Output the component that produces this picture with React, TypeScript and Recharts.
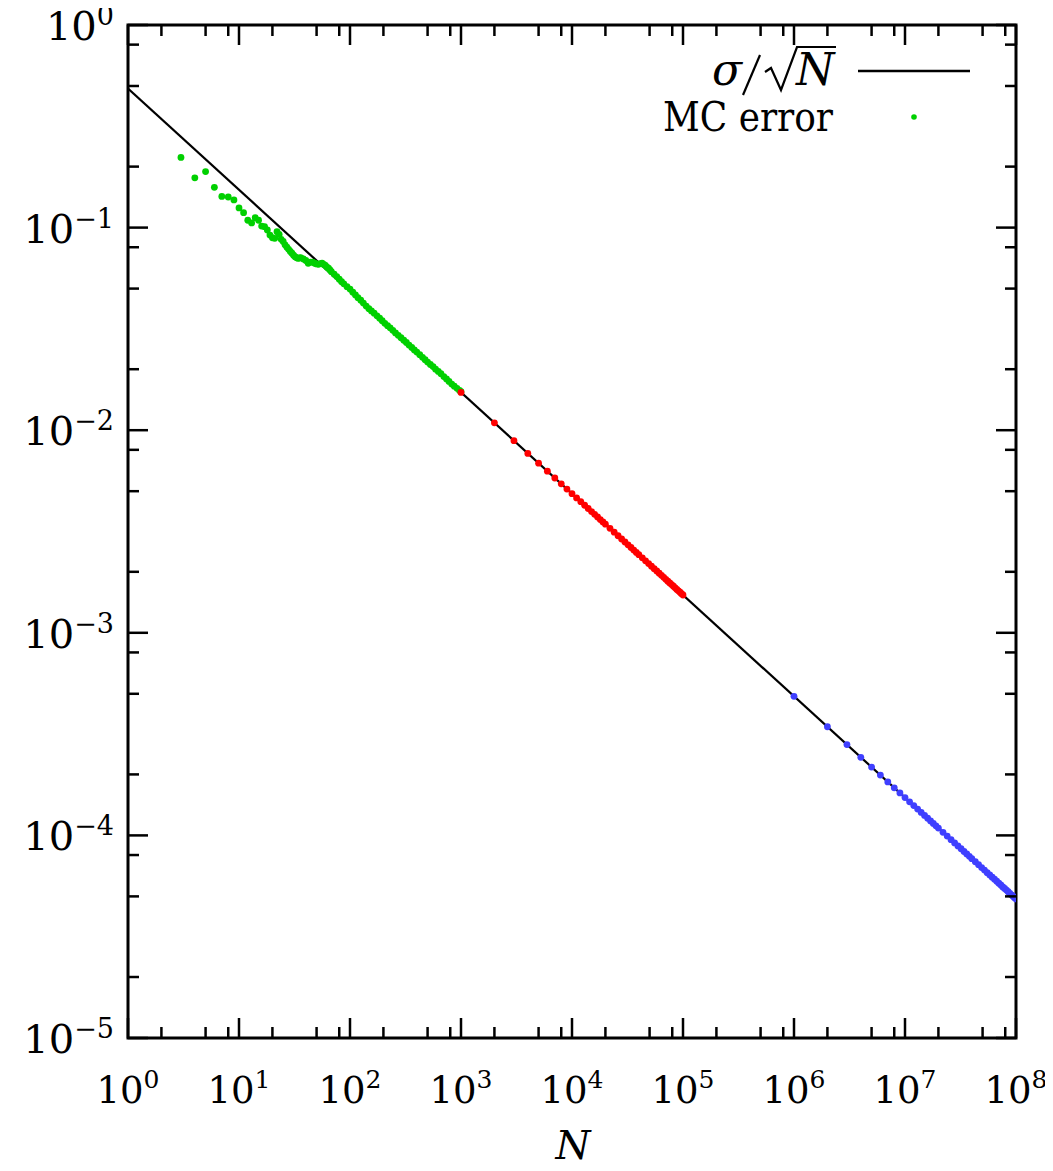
import { ScatterChart, Scatter, XAxis, YAxis, ReferenceArea } from 'recharts'

// sigma / sqrt(N) reference line, end points
const lineN = [1, 1e8]
const lineErr = [0.486, 0.0000486]

// MC error, first run (green)
const greenN = [3, 4, 5, 6, 7, 8, 9, 10, 11, 12, 13, 14, 15, 16, 17, 18, 19, 20, 21, 22, 23, 24, 25, 26, 27, 28, 29, 30, 31, 32, 33, 34, 35, 36, 38, 40, 42, 44, 46, 48, 50, 52, 54, 56, 58, 60, 62, 64, 66, 68, 72, 76, 80, 84, 88, 94, 100, 106, 112, 118, 125, 132, 140, 148, 156, 165, 175, 185, 195, 206, 218, 230, 243, 257, 272, 288, 305, 322, 340, 360, 380, 400, 425, 450, 475, 500, 530, 560, 590, 625, 660, 700, 740, 780, 825, 870, 920, 970, 1000]
const greenErr = [0.222, 0.176, 0.189, 0.158, 0.1426, 0.1416, 0.137, 0.125, 0.1185, 0.1087, 0.1054, 0.112, 0.1087, 0.1018, 0.101, 0.0973, 0.0919, 0.0891, 0.0885, 0.0955, 0.0925, 0.0875, 0.0855, 0.0822, 0.08, 0.0781, 0.0762, 0.0747, 0.0731, 0.0719, 0.071, 0.0705, 0.0708, 0.0711, 0.07, 0.0688, 0.0667, 0.0676, 0.0675, 0.0667, 0.0662, 0.0659, 0.0664, 0.0667, 0.0658, 0.065, 0.0638, 0.063, 0.0618, 0.0606, 0.0589, 0.0573, 0.0556, 0.0541, 0.0528, 0.0511, 0.0497, 0.048, 0.0465, 0.0451, 0.0438, 0.0424, 0.041, 0.0398, 0.0388, 0.0378, 0.0367, 0.0357, 0.0347, 0.0337, 0.0328, 0.032, 0.0311, 0.0302, 0.0294, 0.0286, 0.0278, 0.0271, 0.0263, 0.0256, 0.0249, 0.0243, 0.0236, 0.0229, 0.0223, 0.0217, 0.0211, 0.0206, 0.02, 0.0195, 0.019, 0.0184, 0.0179, 0.0174, 0.0169, 0.0165, 0.0161, 0.0157, 0.0155]

// second run (red)
const redN = [1000, 2000, 3000, 4000, 5000, 6000, 7000, 8000, 9000, 10000, 11000, 12000, 13000, 14000, 15000, 16000, 17000, 18000, 19000, 20000, 22000, 24000, 26000, 28000, 30000, 32000, 34000, 36000, 38000, 40000, 43000, 46000, 49000, 52000, 55000, 58000, 61000, 64000, 67000, 70000, 73000, 76000, 79000, 82000, 85000, 88000, 91000, 94000, 97000, 100000]
const redErr = [0.01537, 0.01087, 0.008873, 0.007684, 0.006873, 0.006274, 0.005809, 0.005434, 0.005123, 0.00486, 0.004634, 0.004437, 0.004262, 0.004107, 0.003968, 0.003842, 0.003728, 0.003622, 0.003526, 0.003437, 0.003277, 0.003137, 0.003014, 0.002904, 0.002806, 0.002717, 0.002636, 0.002561, 0.002493, 0.00243, 0.002344, 0.002266, 0.002196, 0.002131, 0.002072, 0.002018, 0.001968, 0.001921, 0.001878, 0.001837, 0.001799, 0.001763, 0.001729, 0.001697, 0.001667, 0.001638, 0.001611, 0.001585, 0.00156, 0.001537]

// third run (blue)
const blueN = [1e6, 2e6, 3e6, 4e6, 5e6, 6e6, 7e6, 8e6, 9e6, 1e7, 1.1e7, 1.2e7, 1.3e7, 1.4e7, 1.5e7, 1.6e7, 1.7e7, 1.8e7, 1.9e7, 2e7, 2.2e7, 2.4e7, 2.6e7, 2.8e7, 3e7, 3.2e7, 3.4e7, 3.6e7, 3.8e7, 4e7, 4.3e7, 4.6e7, 4.9e7, 5.2e7, 5.5e7, 5.8e7, 6.1e7, 6.4e7, 6.7e7, 7e7, 7.3e7, 7.6e7, 7.9e7, 8.2e7, 8.5e7, 8.8e7, 9.1e7, 9.4e7, 9.7e7, 1e8]
const blueErr = [0.000486, 0.0003437, 0.0002806, 0.000243, 0.0002173, 0.0001984, 0.0001837, 0.0001718, 0.000162, 0.0001537, 0.0001465, 0.0001403, 0.0001348, 0.0001299, 0.0001255, 0.0001215, 0.0001179, 0.0001146, 0.0001115, 0.0001087, 0.0001036, 0.0000992, 0.0000953, 0.0000918, 0.0000887, 0.0000859, 0.0000833, 0.000081, 0.0000788, 0.0000768, 0.0000741, 0.0000717, 0.0000694, 0.0000674, 0.0000655, 0.0000638, 0.0000622, 0.0000608, 0.0000594, 0.0000581, 0.0000569, 0.0000557, 0.0000547, 0.0000537, 0.0000527, 0.0000518, 0.0000509, 0.0000501, 0.0000493, 0.0000486]

const xDecades = [0, 1, 2, 3, 4, 5, 6, 7, 8]
const yDecades = [-5, -4, -3, -2, -1, 0]
const minorSteps = [2, 5, 8]

const zip = (ns: number[], es: number[]) => ns.map((n, i) => ({ n, err: es[i] }))

const logTicks = (decs: number[]) => [
  ...decs.map((d) => 10 ** d),
  ...decs.slice(0, -1).flatMap((d) => minorSteps.map((m) => m * 10 ** d)),
].sort((a, b) => a - b)

const W = 1053
const H = 1171
const PLOT = { left: 128, top: 25, right: 1016, bottom: 1038 }
const FONT = '"DejaVu Serif", "Liberation Serif", serif'
const txt = { fontFamily: FONT }
const GREEN = '#00d000'
const RED = '#ff0000'
const BLUE = '#3f3fff'

const exponentOf = (v: number) => {
  const e = Math.log10(v)
  return Math.abs(e - Math.round(e)) < 1e-6 ? Math.round(e) : null
}

const fmtExp = (e: number) => (e < 0 ? `\u2212${-e}` : `${e}`)

function XTick(props: any) {
  const { x, payload } = props
  const e = exponentOf(payload.value)
  const len = e === null ? 11 : 20
  return (
    <g>
      <line x1={x} x2={x} y1={PLOT.bottom} y2={PLOT.bottom - len} stroke="#000" strokeWidth={2.5} />
      <line x1={x} x2={x} y1={PLOT.top} y2={PLOT.top + len} stroke="#000" strokeWidth={2.5} />
      {e !== null && (
        <text x={x} y={1103} textAnchor="middle" style={txt} fontSize={37} fill="#000">
          10<tspan dy={-15} fontSize={25}>{fmtExp(e)}</tspan>
        </text>
      )}
    </g>
  )
}

function YTick(props: any) {
  const { y, payload } = props
  const e = exponentOf(payload.value)
  const len = e === null ? 11 : 20
  return (
    <g>
      <line x1={PLOT.left} x2={PLOT.left + len} y1={y} y2={y} stroke="#000" strokeWidth={2.5} />
      <line x1={PLOT.right} x2={PLOT.right - len} y1={y} y2={y} stroke="#000" strokeWidth={2.5} />
      {e !== null && (
        <text x={114} y={y + 15} textAnchor="end" style={txt} fontSize={40} fill="#000">
          10<tspan dy={-15} fontSize={27}>{fmtExp(e)}</tspan>
        </text>
      )}
    </g>
  )
}

const Dot = (color: string) => (p: any) => <circle cx={p.cx} cy={p.cy} r={3.4} fill={color} />

function Overlay() {
  return (
    <g style={txt} fill="#000">
      <text x={712} y={85} fontSize={44} fontStyle="italic" style={txt}>σ</text>
      <path d="M743,95 L760,55" stroke="#000" strokeWidth={2.2} fill="none" />
      <path d="M765,72 L771,68 L781,90 L797,47 L836,47" stroke="#000" strokeWidth={2.2} fill="none" />
      <text x={796} y={85} fontSize={44} fontStyle="italic" style={txt}>N</text>
      <line x1={858} x2={970} y1={71} y2={71} stroke="#000" strokeWidth={2.5} />
      <text x={663} y={131} fontSize={41} textLength={170} lengthAdjust="spacingAndGlyphs" style={txt}>MC error</text>
      <circle cx={914} cy={117} r={2.8} fill={GREEN} />
      <text x={573} y={1159} fontSize={40} fontStyle="italic" textAnchor="middle" style={txt}>N</text>
    </g>
  )
}

export default function App() {
  return (
    <div style={{ width: W, height: H, margin: -8, background: '#fff' }}>
      <ScatterChart width={W} height={H} margin={{ top: 25, right: 37, bottom: 0, left: 0 }}>
        <XAxis
          type="number"
          dataKey="n"
          scale="log"
          domain={[1, 1e8]}
          allowDataOverflow
          ticks={logTicks(xDecades)}
          interval={0}
          tick={<XTick />}
          tickLine={false}
          axisLine={false}
          height={133}
        />
        <YAxis
          type="number"
          dataKey="err"
          scale="log"
          domain={[1e-5, 1]}
          allowDataOverflow
          ticks={logTicks(yDecades)}
          interval={0}
          tick={<YTick />}
          tickLine={false}
          axisLine={false}
          width={128}
        />
        <Scatter
          data={zip(lineN, lineErr)}
          line={{ stroke: '#000', strokeWidth: 2.2 }}
          shape={() => <g />}
          isAnimationActive={false}
        />
        <Scatter data={zip(greenN, greenErr)} shape={Dot(GREEN)} isAnimationActive={false} />
        <Scatter data={zip(redN, redErr)} shape={Dot(RED)} isAnimationActive={false} />
        <Scatter data={zip(blueN, blueErr)} shape={Dot(BLUE)} isAnimationActive={false} />
        <ReferenceArea x1={1} x2={1e8} y1={1e-5} y2={1} fill="none" stroke="#000" strokeWidth={3} />
        <Overlay />
      </ScatterChart>
    </div>
  )
}
